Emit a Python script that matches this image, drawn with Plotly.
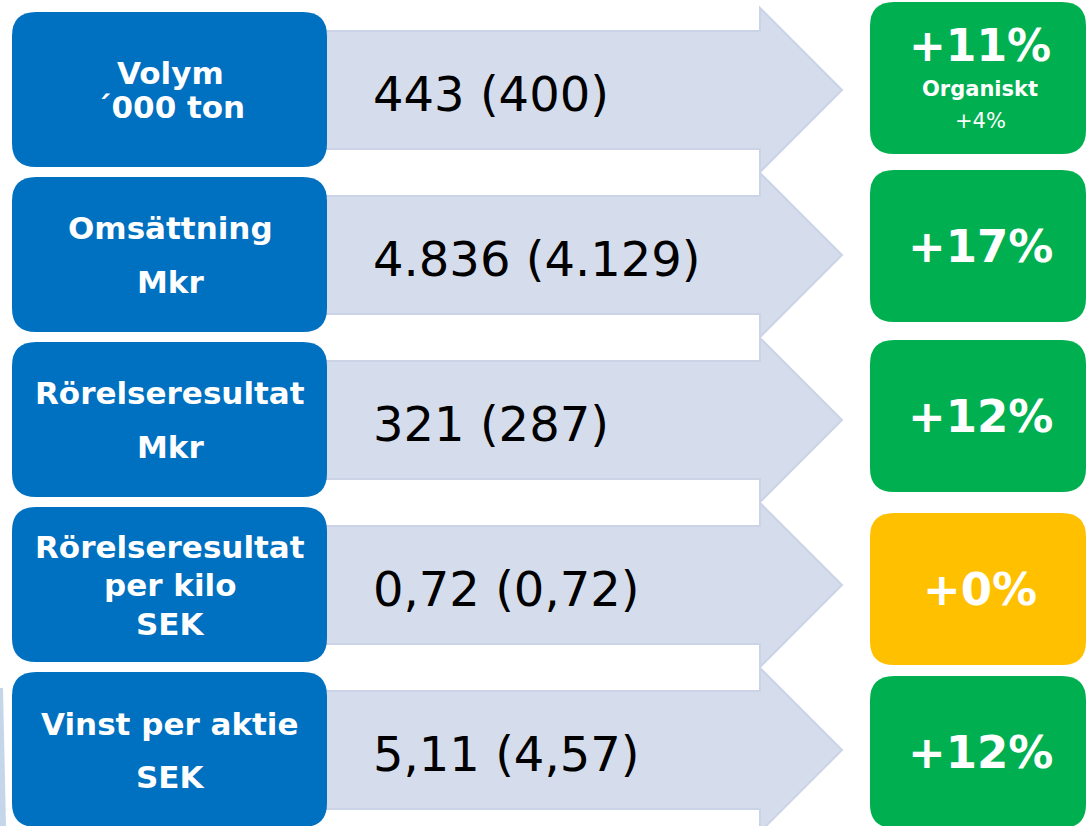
import plotly.graph_objects as go

# data
labels = [
    ["Volym", "´000 ton"],
    ["Omsättning", "Mkr"],
    ["Rörelseresultat", "Mkr"],
    ["Rörelseresultat", "per kilo", "SEK"],
    ["Vinst per aktie", "SEK"],
]
values = ["443 (400)", "4.836 (4.129)", "321 (287)", "0,72 (0,72)", "5,11 (4,57)"]
changes = ["+11%", "+17%", "+12%", "+0%", "+12%"]
change_notes = [["Organiskt", "+4%"], [], [], [], []]
change_colors = ["#00B050", "#00B050", "#00B050", "#FFC000", "#00B050"]

# layout of the rows (pixels, y grows downwards)
W, H = 1087, 826
row_y0 = 90
row_step = 165
label_spacing = [34, 54, 54, 38.5, 53]
green_offset = [-12, -9, -4, 4, 2]

BLUE = "#0070C0"
ARROW_FILL = "#D5DCEB"
ARROW_LINE = "#CBD3E6"


def rounded_rect(x0, y0, x1, y1, r):
    return (f"M {x0+r},{y0} L {x1-r},{y0} Q {x1},{y0} {x1},{y0+r} "
            f"L {x1},{y1-r} Q {x1},{y1} {x1-r},{y1} L {x0+r},{y1} "
            f"Q {x0},{y1} {x0},{y1-r} L {x0},{y0+r} Q {x0},{y0} {x0+r},{y0} Z")


def arrow(cy):
    bx0, bx1, tip = 320, 760, 842
    bh, hh = 59, 82
    return (f"M {bx0},{cy-bh} L {bx1},{cy-bh} L {bx1},{cy-hh} L {tip},{cy} "
            f"L {bx1},{cy+hh} L {bx1},{cy+bh} L {bx0},{cy+bh} Z")


fig = go.Figure()
shapes = []
annotations = []

for i in range(len(labels)):
    cy = row_y0 + row_step * i
    # arrow behind everything
    shapes.append(dict(type="path", path=arrow(cy), fillcolor=ARROW_FILL,
                       line=dict(color=ARROW_LINE, width=2), layer="below"))
    # blue label box
    shapes.append(dict(type="path", path=rounded_rect(12, cy - 78, 327, cy + 77, 24),
                       fillcolor=BLUE, line=dict(width=0), layer="below"))
    # change box
    gy = cy + green_offset[i]
    shapes.append(dict(type="path", path=rounded_rect(870, gy - 76, 1086, gy + 76, 24),
                       fillcolor=change_colors[i], line=dict(width=0), layer="below"))

    n = len(labels[i])
    for k, line in enumerate(labels[i]):
        annotations.append(dict(
            x=170, y=cy + (k - (n - 1) / 2) * label_spacing[i], text=line,
            showarrow=False, xanchor="center", yanchor="middle",
            font=dict(family="DejaVu Sans", size=31, color="white", weight="bold")))

    annotations.append(dict(
        x=371, y=cy + 4, text=values[i], showarrow=False,
        xanchor="left", yanchor="middle",
        font=dict(family="DejaVu Sans", size=48, color="black")))

    if change_notes[i]:
        annotations.append(dict(
            x=980, y=gy - 33, text=changes[i], showarrow=False,
            xanchor="center", yanchor="middle",
            font=dict(family="DejaVu Sans", size=44, color="white", weight="bold")))
        annotations.append(dict(
            x=980, y=gy + 11, text=change_notes[i][0], showarrow=False,
            xanchor="center", yanchor="middle",
            font=dict(family="DejaVu Sans", size=21, color="white", weight="bold")))
        annotations.append(dict(
            x=980, y=gy + 43, text=change_notes[i][1], showarrow=False,
            xanchor="center", yanchor="middle",
            font=dict(family="DejaVu Sans", size=21, color="white")))
    else:
        annotations.append(dict(
            x=980, y=gy, text=changes[i], showarrow=False,
            xanchor="center", yanchor="middle",
            font=dict(family="DejaVu Sans", size=45, color="white", weight="bold")))

# thin light strip at the left edge of the last row
shapes.append(dict(type="path", path="M 0,688 L 3,688 L 6,826 L 0,826 Z",
                   fillcolor="#C6D6EA", line=dict(width=0), layer="below"))

fig.update_layout(
    width=W, height=H,
    margin=dict(l=0, r=0, t=0, b=0),
    paper_bgcolor="white", plot_bgcolor="white",
    xaxis=dict(range=[0, W], visible=False, fixedrange=True),
    yaxis=dict(range=[H, 0], visible=False, fixedrange=True),
    shapes=shapes, annotations=annotations,
    showlegend=False,
)
fig.write_html("out.html", config={"displayModeBar": False},
               post_script="document.body.style.margin='0';")
